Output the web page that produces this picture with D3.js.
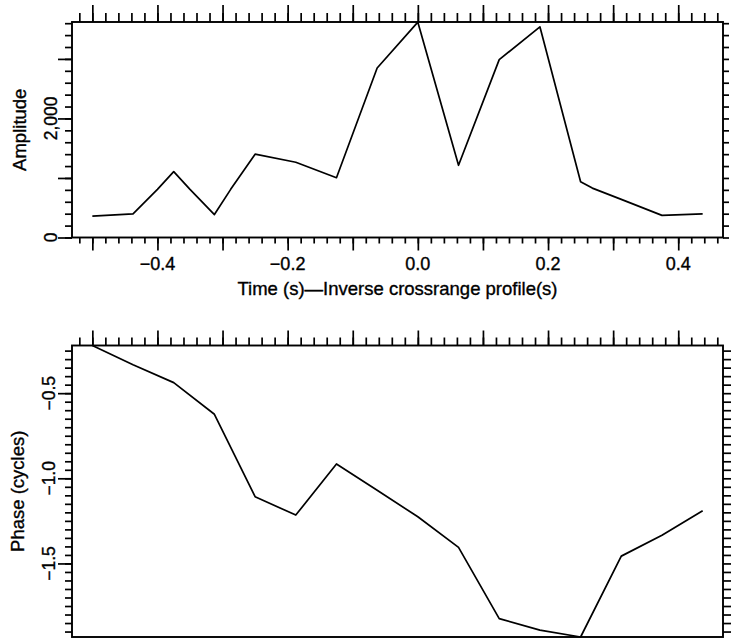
<!DOCTYPE html>
<html>
<head>
<meta charset="utf-8">
<script src="https://cdn.jsdelivr.net/npm/d3@7"></script>
<style>
  html, body { margin: 0; padding: 0; background: #fff; }
  svg text { font-family: "Liberation Sans", Arial, sans-serif; fill: #000; stroke: #000; stroke-width: 0.35px; }
</style>
</head>
<body>
<svg id="chart" width="732" height="639"></svg>
<script>
// ---- data ----
const ampTime   = [-0.5, -0.4375, -0.4, -0.375, -0.35, -0.3125, -0.2875, -0.25, -0.1875, -0.125, -0.0625, 0, 0.0625, 0.125, 0.1875, 0.25, 0.268, 0.3125, 0.375, 0.4375];
const ampValues = [359, 398, 809, 1106, 809, 385, 809, 1400, 1264, 1005, 2848, 3617, 1213, 2988, 3539, 937, 830, 640, 371, 398];

const phaseTime   = [-0.5, -0.4375, -0.375, -0.3125, -0.25, -0.1875, -0.125, -0.0625, 0, 0.0625, 0.125, 0.1875, 0.25, 0.3125, 0.375, 0.4375];
const phaseValues = [-0.22, -0.333, -0.438, -0.624, -1.108, -1.216, -0.916, -1.07, -1.226, -1.406, -1.824, -1.892, -1.932, -1.457, -1.334, -1.19];

const xTickLabels = [-0.4, -0.2, 0.0, 0.2, 0.4];
const ampTickLabels = [0, 2000];
const phaseTickLabels = [-0.5, -1.0, -1.5];

const xTitle = "Time (s)\u2014Inverse crossrange profile(s)";
const ampTitle = "Amplitude";
const phaseTitle = "Phase (cycles)";

// ---- layout ----
const svg = d3.select("#chart");
const L = 72, R = 723;
const top1 = 22, bot1 = 237.5;
const top2 = 345.5, bot2 = 637;

const x = d3.scaleLinear().domain([-0.53125, 0.46875]).range([L, R]);
const yA = d3.scaleLinear().domain([0, 3620]).range([bot1, top1]);
const yP = d3.scaleLinear().domain([-1.932, -0.22]).range([bot2, top2]);

const xMinor = d3.range(-0.52, 0.461, 0.02).map(v => +v.toFixed(2));
const xMajor = d3.range(-0.5, 0.41, 0.1).map(v => +v.toFixed(1));
const ampMinor = d3.range(0, 3601, 200);
const ampMajor = [0, 1000, 2000, 3000];
const phMinor = d3.range(-0.25, -1.93, -0.05).map(v => +v.toFixed(2));
const phMajor = [-0.5, -1.0, -1.5];

function styleAxis(g) {
  g.select(".domain").remove();
  g.selectAll(".tick line").attr("stroke", "#000").attr("stroke-width", 1.7);
  g.selectAll(".tick text").remove();
}

function drawAxis(axis, tx, ty) {
  svg.append("g").attr("transform", `translate(${tx},${ty})`).call(axis).call(styleAxis);
}

// ===== Top panel =====
drawAxis(d3.axisTop(x).tickValues(xMinor).tickSize(9).tickFormat(""), 0, top1);
drawAxis(d3.axisTop(x).tickValues(xMajor).tickSize(17).tickFormat(""), 0, top1);
drawAxis(d3.axisBottom(x).tickValues(xMinor).tickSize(6).tickFormat(""), 0, bot1);
drawAxis(d3.axisBottom(x).tickValues(xMajor).tickSize(13).tickFormat(""), 0, bot1);
drawAxis(d3.axisLeft(yA).tickValues(ampMinor).tickSize(7).tickFormat(""), L, 0);
drawAxis(d3.axisLeft(yA).tickValues(ampMajor).tickSize(14).tickFormat(""), L, 0);
drawAxis(d3.axisRight(yA).tickValues(ampMinor).tickSize(6).tickFormat(""), R, 0);

svg.append("rect").attr("x", L).attr("y", top1).attr("width", R - L).attr("height", bot1 - top1)
  .attr("fill", "none").attr("stroke", "#000").attr("stroke-width", 1.9);

const fmtX = d3.format(".1f");
svg.append("g").selectAll("text").data(xTickLabels).join("text")
  .attr("x", d => x(d)).attr("y", 270).attr("text-anchor", "middle")
  .attr("font-size", 18).text(d => fmtX(d));

svg.append("text").attr("x", (L + R) / 2).attr("y", 295).attr("text-anchor", "middle")
  .attr("font-size", 18.5).text(xTitle);

const fmtA = d3.format(",");
svg.append("g").selectAll("text").data(ampTickLabels).join("text")
  .attr("transform", d => `translate(57,${yA(d)}) rotate(-90)`)
  .attr("text-anchor", "middle").attr("font-size", 17.5).text(d => fmtA(d));

svg.append("text").attr("transform", `translate(26,${(top1 + bot1) / 2}) rotate(-90)`)
  .attr("text-anchor", "middle").attr("font-size", 18.5).text(ampTitle);

const lineA = d3.line().x((d, i) => x(ampTime[i])).y(d => yA(d));
svg.append("path").datum(ampValues).attr("d", lineA)
  .attr("fill", "none").attr("stroke", "#000").attr("stroke-width", 1.7).attr("stroke-linejoin", "round");

// ===== Bottom panel =====
drawAxis(d3.axisTop(x).tickValues(xMinor).tickSize(8).tickFormat(""), 0, top2);
drawAxis(d3.axisTop(x).tickValues(xMajor).tickSize(15).tickFormat(""), 0, top2);
drawAxis(d3.axisLeft(yP).tickValues(phMinor).tickSize(7).tickFormat(""), L, 0);
drawAxis(d3.axisLeft(yP).tickValues(phMajor).tickSize(14).tickFormat(""), L, 0);
drawAxis(d3.axisRight(yP).tickValues(phMinor).tickSize(8).tickFormat(""), R, 0);

svg.append("rect").attr("x", L).attr("y", top2).attr("width", R - L).attr("height", bot2 - top2)
  .attr("fill", "none").attr("stroke", "#000").attr("stroke-width", 1.9);

const fmtP = d3.format(".1f");
svg.append("g").selectAll("text").data(phaseTickLabels).join("text")
  .attr("transform", d => `translate(55,${yP(d)}) rotate(-90)`)
  .attr("text-anchor", "middle").attr("font-size", 17.5).text(d => fmtP(d));

svg.append("text").attr("transform", `translate(24,${(top2 + bot2) / 2}) rotate(-90)`)
  .attr("text-anchor", "middle").attr("font-size", 18.5).text(phaseTitle);

const lineP = d3.line().x((d, i) => x(phaseTime[i])).y(d => yP(d));
svg.append("path").datum(phaseValues).attr("d", lineP)
  .attr("fill", "none").attr("stroke", "#000").attr("stroke-width", 1.7).attr("stroke-linejoin", "round");
</script>
</body>
</html>
